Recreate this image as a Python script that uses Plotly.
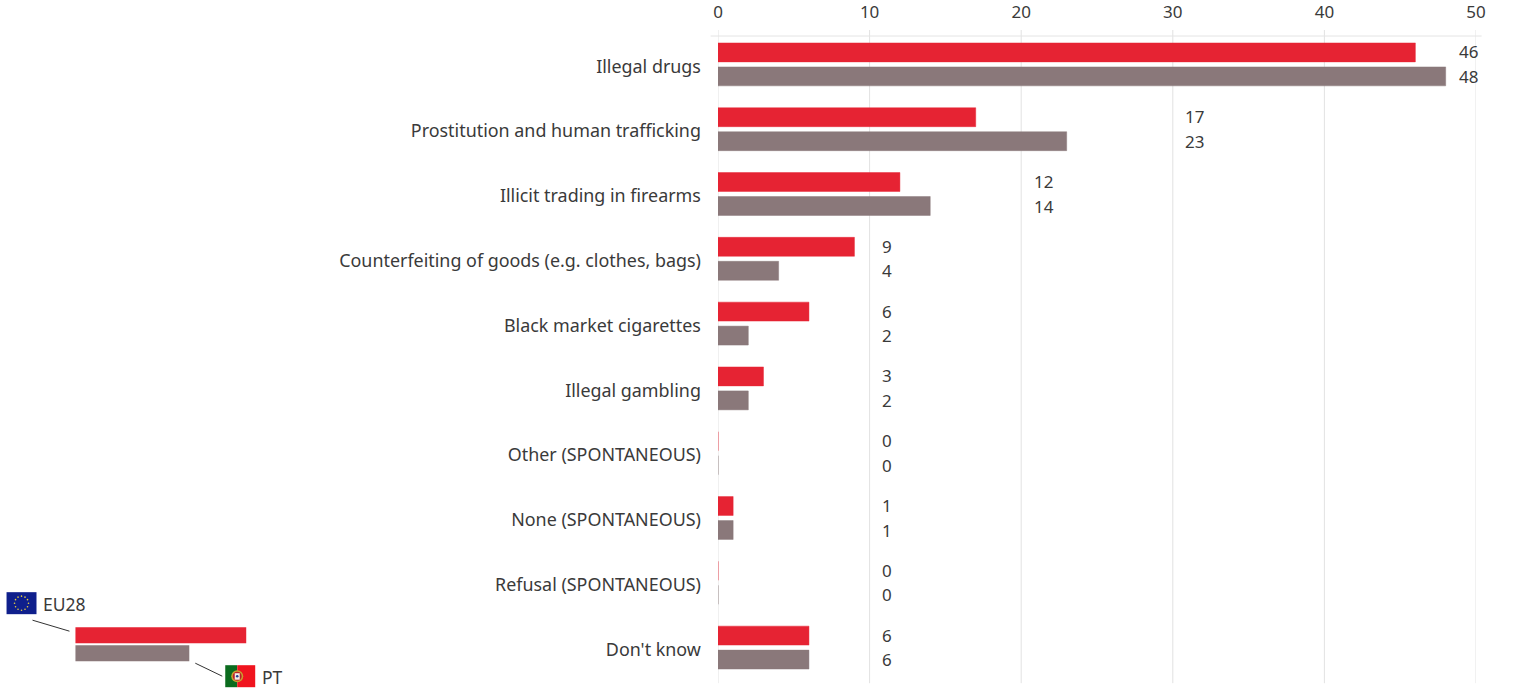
import math
import plotly.graph_objects as go

categories = ["Illegal drugs", "Prostitution and human trafficking", "Illicit trading in firearms",
              "Counterfeiting of goods (e.g. clothes, bags)", "Black market cigarettes", "Illegal gambling",
              "Other (SPONTANEOUS)", "None (SPONTANEOUS)", "Refusal (SPONTANEOUS)", "Don't know"]
eu28 = [46, 17, 12, 9, 6, 3, 0, 1, 0, 6]
pt = [48, 23, 14, 4, 2, 2, 0, 1, 0, 6]
tick_values = [0, 10, 20, 30, 40, 50]

RED = "#E62333"
GREY = "#8A787A"
TEXT = "#3A3A3A"
FONT = "Noto Sans"
W, H = 1521, 688
L, R, T, B = 717.5, 44.5, 32, 8.2
PW, PH = W - L - R, H - T - B
px = lambda x: (x - 0.9 - L) / PW
py = lambda y: 1 - (y - T) / PH

fig = go.Figure()
for name, vals, col, edge in [("EU28", eu28, RED, "rgba(230,35,51,0.45)"), ("PT", pt, GREY, "rgba(138,120,122,0.45)")]:
    fig.add_bar(name=name, y=categories, x=vals, orientation="h",
                marker=dict(color=col, line=dict(color=edge, width=1)), showlegend=False)

annotations = []
for cat, a, b in zip(categories, eu28, pt):
    top = max(a, b)
    lx = min(math.ceil((top + 0.001) / 10) * 10 + 0.7, 48.75)
    for v, shift in ((a, 12.5), (b, -12.0)):
        annotations.append(dict(x=lx, y=cat, xref="x", yref="y", text=str(v), showarrow=False, xanchor="left",
                                yshift=shift, font=dict(size=17, color=TEXT, family=FONT)))

def label(x, y, t):
    return dict(x=px(x), y=py(y), xref="paper", yref="paper", text=t, showarrow=False, xanchor="left",
                xshift=-2, yanchor="middle", font=dict(size=17.5, color=TEXT, family=FONT))
annotations += [label(43, 604, "EU28"), label(262, 677, "PT")]

def rect(x0, y0, x1, y1, color):
    return dict(type="rect", xref="paper", yref="paper", x0=px(x0), x1=px(x1), y0=py(y0), y1=py(y1),
                fillcolor=color, line=dict(width=0), layer="above")
def seg(x0, y0, x1, y1, color="#333333", width=1):
    return dict(type="line", xref="paper", yref="paper", x0=px(x0), x1=px(x1), y0=py(y0), y1=py(y1),
                line=dict(color=color, width=width), layer="above")
def circ(cx, cy, r, color):
    return dict(type="circle", xref="paper", yref="paper", x0=px(cx - r), x1=px(cx + r), y0=py(cy - r), y1=py(cy + r),
                fillcolor=color, line=dict(width=0), layer="above")

shapes = [dict(type="line", xref="x", yref="paper", x0=t, x1=t, y0=py(30), y1=py(683),
               line=dict(color="#E2E2E2", width=1), layer="below") for t in tick_values]
shapes += [
    seg(711, 36, 1483, 36, "#E4E4E4", 1),
    rect(75, 627, 246, 643, RED),
    rect(75, 645, 189, 661, GREY),
    seg(32, 620, 69, 631),
    seg(195, 663, 222, 676),
    rect(6, 592, 36, 614, "#0F1F8C"),
    rect(225, 665, 237, 687, "#0B6B1E"),
    rect(237, 665, 255, 687, "#F0141E"),
    circ(237, 676, 6, "#C8A030"),
    circ(237, 676, 4.5, "#C0202A"),
    rect(234.5, 673, 239.5, 679.5, "#F4F0E8"),
    circ(237, 676, 1.3, "#2A3F90"),
]
for dx, dy in [(0, -7), (3.5, -6), (6, -3.5), (7, 0), (6, 3.5), (3.5, 6), (0, 7), (-3.5, 6), (-6, 3.5), (-7, 0), (-6, -3.5), (-3.5, -6)]:
    shapes.append(circ(21 + dx, 603 + dy, 0.8, "#E8D040"))

fig.update_layout(
    width=W, height=H, barmode="group", bargap=0.26, bargroupgap=0.21,
    margin=dict(l=L, r=R, t=T, b=B, pad=0),
    plot_bgcolor="white", paper_bgcolor="white",
    font=dict(family=FONT, color=TEXT, size=18),
    xaxis=dict(side="top", range=[0, 50], tickvals=tick_values, showgrid=False,
               zeroline=False, showline=False, ticks="outside", ticklen=6, tickcolor="rgba(0,0,0,0)", automargin=False,
               tickfont=dict(size=17, color=TEXT, family=FONT)),
    yaxis=dict(autorange="reversed", categoryorder="array", categoryarray=categories, showgrid=False, zeroline=False,
               showline=False, ticks="outside", ticklen=12.5, tickcolor="rgba(0,0,0,0)", automargin=False,
               ticklabelshift=-2, tickfont=dict(size=17.9, color=TEXT, family=FONT)),
    annotations=annotations, shapes=shapes,
)
fig.write_html("out.html", config=dict(displayModeBar=False),
               post_script="document.body.style.margin='0';document.body.style.overflow='hidden';")
